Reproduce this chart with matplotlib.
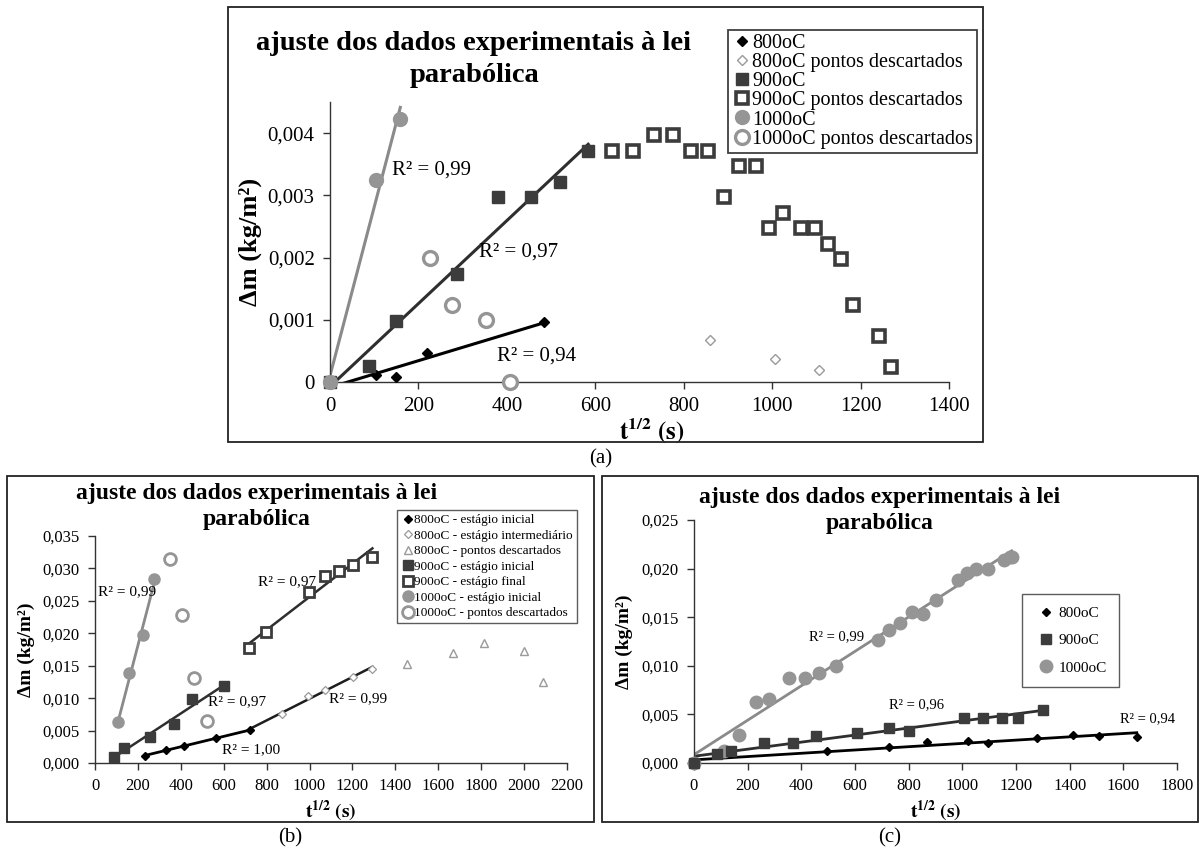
import matplotlib
matplotlib.use("Agg")
import matplotlib.pyplot as plt
import numpy as np
from matplotlib.patches import Rectangle

plt.rcParams["font.family"] = ["Liberation Serif", "DejaVu Serif"]
plt.rcParams["mathtext.fontset"] = "stix"

W, H = 1201, 852

C800 = "#000000"
C900 = "#3c3c3c"
C1000 = "#959595"
CLIGHT = "#9a9a9a"

TITLE_1 = "ajuste dos dados experimentais à lei"
TITLE_2 = "parabólica"
XLABEL = r"$\mathbf{t^{1/2}\ (s)}$"
YLABEL = "Δm (kg/m²)"

# ---- panel (a)
a_800_x = [0, 105, 149, 219, 485]
a_800_y = [0, 0.000107, 0.000075, 0.00047, 0.00097]
a_800d_x = [860, 1007, 1106]
a_800d_y = [0.00068, 0.00037, 0.0002]
a_900_x = [0, 88, 149, 288, 381, 454, 521, 584]
a_900_y = [0, 0.00025, 0.00098, 0.00173, 0.00298, 0.00298, 0.00322, 0.00371]
a_900d_x = [637, 685, 733, 776, 817, 855, 891, 924, 963, 993, 1025, 1066, 1098,
            1126, 1155, 1184, 1242, 1268]
a_900d_y = [0.00371, 0.00371, 0.00397, 0.00397, 0.00371, 0.00371, 0.00298, 0.00347,
            0.00347, 0.00247, 0.00272, 0.00247, 0.00247, 0.00222, 0.00198, 0.00124,
            0.00074, 0.00024]
a_1000_x = [0, 105, 159]
a_1000_y = [0, 0.00324, 0.00422]
a_1000d_x = [226, 275, 352, 408]
a_1000d_y = [0.00199, 0.00124, 0.00099, 0.0]
a_r2 = ["R² = 0,99", "R² = 0,97", "R² = 0,94"]
a_r2_x = [141, 338, 377]
a_r2_y = [0.00341, 0.00209, 0.00041]
a_xticks = [0, 200, 400, 600, 800, 1000, 1200, 1400]
a_yticks = [0, 0.001, 0.002, 0.003, 0.004]
a_ylabels = ["0", "0,001", "0,002", "0,003", "0,004"]

# ---- panel (b)
b_800i_x = [233, 332, 414, 565, 721]
b_800i_y = [0.00112, 0.00203, 0.00259, 0.00381, 0.00508]
b_800m_x = [872, 992, 1071, 1202, 1293]
b_800m_y = [0.00757, 0.01026, 0.01128, 0.01331, 0.01453]
b_800d_x = [1453, 1668, 1812, 2000, 2090]
b_800d_y = [0.0153, 0.0169, 0.0185, 0.0172, 0.01245]
b_900i_x = [88, 135, 255, 366, 454, 601]
b_900i_y = [0.00097, 0.00224, 0.0040, 0.0060, 0.0099, 0.01184]
b_900f_x = [717, 798, 999, 1073, 1139, 1202, 1293]
b_900f_y = [0.01768, 0.0202, 0.0263, 0.0288, 0.0296, 0.0306, 0.0318]
b_1000i_x = [109, 158, 226, 274]
b_1000i_y = [0.0063, 0.0139, 0.0197, 0.0284]
b_1000d_x = [350, 407, 461, 524]
b_1000d_y = [0.0315, 0.0228, 0.0131, 0.0064]
b_r2 = ["R² = 0,99", "R² = 0,97", "R² = 0,97", "R² = 1,00", "R² = 0,99"]
b_r2_x = [15, 759, 529, 592, 1089]
b_r2_y = [0.0264, 0.0280, 0.0094, 0.0020, 0.0099]
b_xticks = list(range(0, 2201, 200))
b_yticks = [0, 0.005, 0.010, 0.015, 0.020, 0.025, 0.030, 0.035]
b_ylabels = ["0,000", "0,005", "0,010", "0,015", "0,020", "0,025", "0,030", "0,035"]

# ---- panel (c)
c_800_x = [0, 495, 726, 870, 1020, 1094, 1280, 1411, 1511, 1650]
c_800_y = [0, 0.00119, 0.00166, 0.00217, 0.00224, 0.00204, 0.00261, 0.00285,
           0.00278, 0.00271]
c_900_x = [0, 85, 138, 260, 369, 456, 606, 726, 802, 1006, 1076, 1147, 1208, 1301]
c_900_y = [0, 0.0009, 0.00125, 0.00204, 0.00204, 0.00278, 0.00312, 0.00363, 0.00326,
           0.00465, 0.00465, 0.00465, 0.00465, 0.00543]
c_1000_x = [0, 110, 167, 231, 281, 355, 413, 466, 528, 685, 726, 766, 811, 855, 901,
            984, 1018, 1051, 1094, 1155, 1177, 1184]
c_1000_y = [0, 0.00126, 0.00285, 0.00624, 0.00661, 0.00879, 0.00879, 0.00923, 0.01001,
            0.01269, 0.01364, 0.01442, 0.01557, 0.01533, 0.01679, 0.01883, 0.0195,
            0.01998, 0.01998, 0.02093, 0.0212, 0.0212]
c_r2 = ["R² = 0,99", "R² = 0,96", "R² = 0,94"]
c_r2_x = [428, 726, 1586]
c_r2_y = [0.01296, 0.00597, 0.00458]
c_xticks = list(range(0, 1801, 200))
c_yticks = [0, 0.005, 0.010, 0.015, 0.020, 0.025]
c_ylabels = ["0,000", "0,005", "0,010", "0,015", "0,020", "0,025"]


def rect(l, t, r, b):
    return [l / W, 1 - b / H, (r - l) / W, (b - t) / H]


def style_axes(ax, xticks, yticks, ylabels, xlim, ylim, tsize):
    ax.set_xlim(*xlim)
    ax.set_ylim(*ylim)
    ax.set_xticks(xticks)
    ax.set_xticklabels([str(v) for v in xticks])
    ax.set_yticks(yticks)
    ax.set_yticklabels(ylabels)
    for s in ["top", "right"]:
        ax.spines[s].set_visible(False)
    for s in ["left", "bottom"]:
        ax.spines[s].set_color("#333333")
        ax.spines[s].set_linewidth(1.0)
    ax.tick_params(length=5, width=1.0, color="#333333", labelsize=tsize, pad=6)
    ax.patch.set_alpha(0)


def fit_line(ax, x, y, color, lw=2.0):
    k, b = np.polyfit(x, y, 1)
    xs = np.array([min(x), max(x)])
    ax.plot(xs, k * xs + b, color=color, lw=lw, zorder=2, clip_on=True)


def frame(fig, l, t, r, b):
    fig.patches.append(Rectangle((l / W, 1 - b / H), (r - l) / W, (b - t) / H,
                                 transform=fig.transFigure, fill=False,
                                 edgecolor="#222222", lw=1.3))


def title(fig, cx, y1, y2, size):
    fig.text(cx / W, 1 - y1 / H, TITLE_1, ha="center", va="center", fontsize=size,
             fontweight="bold")
    fig.text(cx / W, 1 - y2 / H, TITLE_2, ha="center", va="center", fontsize=size,
             fontweight="bold")


fig = plt.figure(figsize=(W / 100, H / 100), dpi=100)

# ================= (a)
frame(fig, 228, 7, 983, 442)
ax = fig.add_axes(rect(330, 102, 949, 382))
ax.plot(a_800_x, a_800_y, "D", color=C800, ms=5.5, label="800oC", zorder=4, clip_on=False)
ax.plot(a_800d_x, a_800d_y, "D", mfc="white", mec=CLIGHT, mew=1.0, ms=5,
        label="800oC pontos descartados", zorder=4)
ax.plot(a_900_x, a_900_y, "s", color=C900, ms=8, label="900oC", zorder=4, clip_on=False)
ax.plot(a_900d_x, a_900d_y, "s", mfc="white", mec=C900, mew=2.6, ms=8,
        label="900oC pontos descartados", zorder=4)
ax.plot(a_1000_x, a_1000_y, "o", color=C1000, ms=10, label="1000oC", zorder=5, clip_on=False)
ax.plot(a_1000d_x, a_1000d_y, "o", mfc="white", mec=C1000, mew=2.4, ms=10,
        label="1000oC pontos descartados", zorder=4, clip_on=False)
fit_line(ax, a_800_x, a_800_y, C800, 2.2)
fit_line(ax, a_900_x, a_900_y, "#2e2e2e", 2.2)
fit_line(ax, a_1000_x, a_1000_y, "#8a8a8a", 2.2)
for t, x, y in zip(a_r2, a_r2_x, a_r2_y):
    ax.text(x, y, t, fontsize=15, va="center", ha="left")
style_axes(ax, a_xticks, a_yticks, a_ylabels, (0, 1400), (0, 0.0045), 15)
ax.set_xlabel(XLABEL, fontsize=18, labelpad=0)
ax.xaxis.set_label_coords(0.52, -0.125)
ax.set_ylabel(YLABEL, fontsize=19, fontweight="bold", labelpad=4)
title(fig, 474, 44, 75, 20.5)
leg = ax.legend(loc="upper right", bbox_to_anchor=(977 / W, 1 - 30 / H),
                bbox_transform=fig.transFigure, fontsize=14.5, frameon=True,
                fancybox=False, borderaxespad=0, handletextpad=0.0,
                handlelength=1.0, labelspacing=0.0, borderpad=0.2, numpoints=1)
leg.get_frame().set_edgecolor("#111111")
leg.get_frame().set_linewidth(1.3)
fig.text(601 / W, 1 - 459 / H, "(a)", ha="center", va="center", fontsize=15)

# ================= (b)
frame(fig, 7, 476, 594, 822)
ax = fig.add_axes(rect(95, 536, 567, 763))
ax.plot(b_800i_x, b_800i_y, "D", color=C800, ms=4.5, label="800oC - estágio inicial", zorder=4)
ax.plot(b_800m_x, b_800m_y, "D", mfc="white", mec=CLIGHT, mew=0.9, ms=4.5,
        label="800oC - estágio intermediário", zorder=4)
ax.plot(b_800d_x, b_800d_y, "^", mfc="white", mec=CLIGHT, mew=1.0, ms=6,
        label="800oC - pontos descartados", zorder=4)
ax.plot(b_900i_x, b_900i_y, "s", color=C900, ms=7, label="900oC - estágio inicial", zorder=4)
ax.plot(b_900f_x, b_900f_y, "s", mfc="white", mec=C900, mew=2.0, ms=7,
        label="900oC - estágio final", zorder=4)
ax.plot(b_1000i_x, b_1000i_y, "o", color=C1000, ms=8, label="1000oC - estágio inicial", zorder=4)
ax.plot(b_1000d_x, b_1000d_y, "o", mfc="white", mec=C1000, mew=2.0, ms=8.5,
        label="1000oC - pontos descartados", zorder=4)
fit_line(ax, b_800i_x, b_800i_y, C800, 2.0)
fit_line(ax, [b_800i_x[-1]] + b_800m_x, [b_800i_y[-1]] + b_800m_y, "#1e1e1e", 1.8)
fit_line(ax, b_900i_x, b_900i_y, "#2e2e2e", 1.8)
fit_line(ax, b_900f_x, b_900f_y, "#2e2e2e", 1.8)
fit_line(ax, b_1000i_x, b_1000i_y, "#8a8a8a", 2.0)
for t, x, y in zip(b_r2, b_r2_x, b_r2_y):
    ax.text(x, y, t, fontsize=11, va="center", ha="left")
style_axes(ax, b_xticks, b_yticks, b_ylabels, (0, 2200), (0, 0.035), 12)
ax.set_xlabel(XLABEL, fontsize=14, labelpad=3)
ax.set_ylabel(YLABEL, fontsize=14, fontweight="bold", labelpad=5)
title(fig, 257, 493, 519, 17)
leg = ax.legend(loc="upper right", bbox_to_anchor=(577 / W, 1 - 510 / H),
                bbox_transform=fig.transFigure, fontsize=9.5, frameon=True,
                fancybox=False, borderaxespad=0, handletextpad=0.0,
                handlelength=1.0, labelspacing=0.25, borderpad=0.3, numpoints=1)
leg.get_frame().set_edgecolor("#333333")
leg.get_frame().set_linewidth(1.0)
fig.text(290 / W, 1 - 838 / H, "(b)", ha="center", va="center", fontsize=15)

# ================= (c)
frame(fig, 602, 476, 1198, 822)
ax = fig.add_axes(rect(694, 520, 1177, 763))
ax.plot(c_800_x, c_800_y, "D", color=C800, ms=4.5, label="800oC", zorder=4, clip_on=False)
ax.plot(c_900_x, c_900_y, "s", color=C900, ms=7, label="900oC", zorder=4, clip_on=False)
ax.plot(c_1000_x, c_1000_y, "o", color=C1000, ms=9, label="1000oC", zorder=3, clip_on=False)
fit_line(ax, c_800_x, c_800_y, C800, 2.0)
fit_line(ax, c_900_x, c_900_y, "#2e2e2e", 2.0)
fit_line(ax, c_1000_x, c_1000_y, "#8a8a8a", 2.0)
for t, x, y in zip(c_r2, c_r2_x, c_r2_y):
    ax.text(x, y, t, fontsize=10.5, va="center", ha="left")
style_axes(ax, c_xticks, c_yticks, c_ylabels, (0, 1800), (0, 0.025), 12)
ax.set_xlabel(XLABEL, fontsize=14, labelpad=3)
ax.set_ylabel(YLABEL, fontsize=14, fontweight="bold", labelpad=6)
title(fig, 880, 497, 523, 17)
leg = ax.legend(loc="upper left", bbox_to_anchor=(1022 / W, 1 - 594 / H),
                bbox_transform=fig.transFigure, fontsize=11, frameon=True,
                fancybox=False, borderaxespad=0, handletextpad=0.0,
                handlelength=1.6, labelspacing=0.9, borderpad=0.8, numpoints=1)
leg.get_frame().set_edgecolor("#333333")
leg.get_frame().set_linewidth(1.0)
fig.text(890 / W, 1 - 838 / H, "(c)", ha="center", va="center", fontsize=15)

fig.savefig("out.png", dpi=100)
